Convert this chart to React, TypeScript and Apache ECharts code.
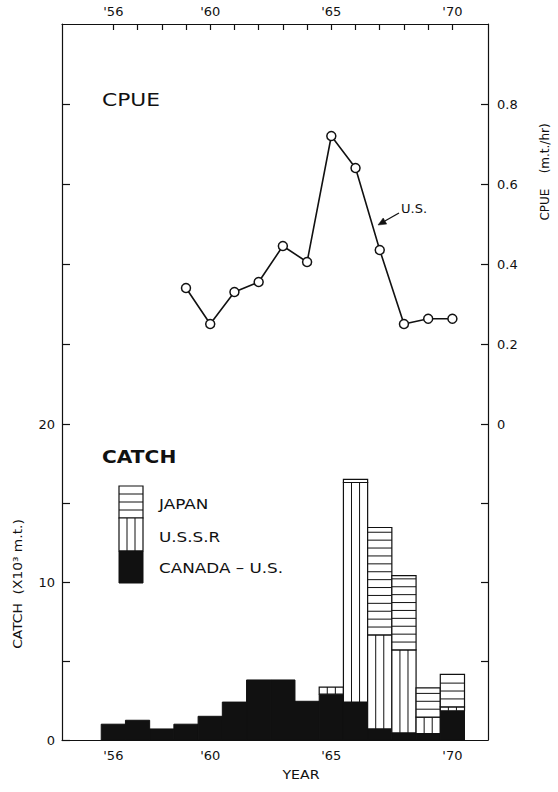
import React, { useEffect, useRef } from "react";
import * as echarts from "echarts";

// ---- data ----
const years = [1956, 1957, 1958, 1959, 1960, 1961, 1962, 1963, 1964, 1965, 1966, 1967, 1968, 1969, 1970];
const canadaUS = [1.0, 1.25, 0.7, 1.0, 1.5, 2.4, 3.8, 3.8, 2.45, 2.9, 2.4, 0.7, 0.45, 0.4, 1.85];
const ussr = [0, 0, 0, 0, 0, 0, 0, 0, 0, 0.45, 13.9, 5.95, 5.25, 1.05, 0.25];
const japan = [0, 0, 0, 0, 0, 0, 0, 0, 0, 0, 0.2, 6.8, 4.7, 1.85, 2.05];

const cpueYears = [1959, 1960, 1961, 1962, 1963, 1964, 1965, 1966, 1967, 1968, 1969, 1970];
const cpueUS = [0.34, 0.25, 0.33, 0.355, 0.445, 0.405, 0.72, 0.64, 0.435, 0.25, 0.263, 0.263];

const yearLabelValues = [1956, 1960, 1965, 1970];
const catchTicks = [0, 5, 10, 15, 20];
const catchLabels = [0, 10, 20];
const cpueTicks = [0, 0.2, 0.4, 0.6, 0.8];

const INK = "#111";
const FONT = "DejaVu Sans";

export default function App() {
  const ref = useRef<HTMLDivElement>(null);

  useEffect(() => {
    if (!ref.current) return;
    const chart = echarts.init(ref.current, null, { renderer: "svg" });

    const barData = years.map((y, i) => [y, canadaUS[i], ussr[i], japan[i]]);
    const lineData = cpueYears.map((y, i) => [y, cpueUS[i]]);

    const yearFmt = (v: number) => "'" + String(Math.round(v)).slice(2);

    const renderBar = (params: any, api: any) => {
      const yr = api.value(0);
      const c = api.value(1);
      const u = api.value(2);
      const j = api.value(3);
      const xl = api.coord([yr - 0.5, 0])[0];
      const xr = api.coord([yr + 0.5, 0])[0];
      const w = xr - xl;
      const y0 = api.coord([yr, 0])[1];
      const yc = api.coord([yr, c])[1];
      const yu = api.coord([yr, c + u])[1];
      const yj = api.coord([yr, c + u + j])[1];
      const children: any[] = [];
      children.push({
        type: "rect",
        shape: { x: xl, y: yc, width: w, height: y0 - yc },
        style: { fill: INK, stroke: INK, lineWidth: 1 },
      });
      if (u > 0) {
        children.push({
          type: "rect",
          shape: { x: xl, y: yu, width: w, height: yc - yu },
          style: { fill: "#fff", stroke: INK, lineWidth: 1.2 },
        });
        for (let k = 1; k < 3; k++) {
          const xx = xl + (w * k) / 3;
          children.push({
            type: "line",
            shape: { x1: xx, y1: yu, x2: xx, y2: yc },
            style: { stroke: INK, lineWidth: 1 },
          });
        }
      }
      if (j > 0) {
        children.push({
          type: "rect",
          shape: { x: xl, y: yj, width: w, height: yu - yj },
          style: { fill: "#fff", stroke: INK, lineWidth: 1.2 },
        });
        for (let v = c + u + 0.5; v < c + u + j - 0.15; v += 0.5) {
          const yy = api.coord([yr, v])[1];
          children.push({
            type: "line",
            shape: { x1: xl, y1: yy, x2: xr, y2: yy },
            style: { stroke: INK, lineWidth: 1 },
          });
        }
      }
      return { type: "group", children };
    };

    // legend box graphics
    const lgX = 119, lgW = 24;
    const lgText = (text: string, y: number) => ({
      type: "text",
      x: 159,
      y,
      scaleX: 1.2,
      style: { text, font: `14px '${FONT}'`, fill: INK, textVerticalAlign: "middle" },
    });
    const legendEls: any[] = [
      { type: "rect", shape: { x: lgX, y: 486, width: lgW, height: 32 }, style: { fill: "#fff", stroke: INK, lineWidth: 1.2 } },
      { type: "line", shape: { x1: lgX, y1: 494, x2: lgX + lgW, y2: 494 }, style: { stroke: INK, lineWidth: 1 } },
      { type: "line", shape: { x1: lgX, y1: 502, x2: lgX + lgW, y2: 502 }, style: { stroke: INK, lineWidth: 1 } },
      { type: "line", shape: { x1: lgX, y1: 510, x2: lgX + lgW, y2: 510 }, style: { stroke: INK, lineWidth: 1 } },
      { type: "rect", shape: { x: lgX, y: 518, width: lgW, height: 33 }, style: { fill: "#fff", stroke: INK, lineWidth: 1.2 } },
      { type: "line", shape: { x1: lgX + 8, y1: 518, x2: lgX + 8, y2: 551 }, style: { stroke: INK, lineWidth: 1 } },
      { type: "line", shape: { x1: lgX + 16, y1: 518, x2: lgX + 16, y2: 551 }, style: { stroke: INK, lineWidth: 1 } },
      { type: "rect", shape: { x: lgX, y: 551, width: lgW, height: 32 }, style: { fill: INK, stroke: INK, lineWidth: 1 } },
      lgText("JAPAN", 504),
      lgText("U.S.S.R", 537),
      lgText("CANADA – U.S.", 568),
    ];

    const option: any = {
      animation: false,
      backgroundColor: "#fff",
      textStyle: { fontFamily: FONT, color: INK },
      grid: { left: 62, right: 70, top: 24, bottom: 52, containLabel: false, outerBoundsMode: "none" },
      xAxis: [
        {
          type: "value",
          position: "bottom",
          min: 1953.88,
          max: 1971.47,
          axisLine: { show: true, onZero: false, lineStyle: { color: INK, width: 1.2 } },
          axisTick: { show: false },
          splitLine: { show: false },
          axisLabel: {
            customValues: yearLabelValues,
            formatter: yearFmt,
            color: INK,
            fontSize: 13,
            fontFamily: FONT,
            margin: 9,
          },
        },
        {
          type: "value",
          position: "top",
          min: 1953.88,
          max: 1971.47,
          axisLine: { show: true, onZero: false, lineStyle: { color: INK, width: 1.2 } },
          axisTick: { show: true, inside: true, length: 6, customValues: years, lineStyle: { color: INK, width: 1.2 } },
          splitLine: { show: false },
          axisLabel: {
            customValues: yearLabelValues,
            formatter: yearFmt,
            color: INK,
            fontSize: 13,
            fontFamily: FONT,
            margin: 6,
          },
        },
      ],
      yAxis: [
        {
          type: "value",
          position: "left",
          min: 0,
          max: 45.32,
          axisLine: { show: true, onZero: false, lineStyle: { color: INK, width: 1.2 } },
          axisTick: { show: true, inside: true, length: 8, customValues: catchTicks, lineStyle: { color: INK, width: 1.2 } },
          splitLine: { show: false },
          axisLabel: { customValues: catchLabels, color: INK, fontSize: 13, fontFamily: FONT, margin: 7 },
        },
        {
          type: "value",
          position: "right",
          min: -0.79,
          max: 1.0,
          axisLine: { show: true, onZero: false, lineStyle: { color: INK, width: 1.2 } },
          axisTick: { show: true, inside: true, length: 7, customValues: cpueTicks, lineStyle: { color: INK, width: 1.2 } },
          splitLine: { show: false },
          axisLabel: {
            customValues: cpueTicks,
            formatter: (v: number) => (v === 0 ? "0" : v.toFixed(1)),
            color: INK,
            fontSize: 13,
            fontFamily: FONT,
            margin: 9,
          },
        },
        {
          type: "value",
          position: "left",
          min: -0.79,
          max: 1.0,
          axisLine: { show: false, onZero: false },
          axisTick: { show: true, inside: true, length: 8, customValues: [0.2, 0.4, 0.6, 0.8], lineStyle: { color: INK, width: 1.2 } },
          splitLine: { show: false },
          axisLabel: { show: false },
        },
        {
          type: "value",
          position: "right",
          min: 0,
          max: 45.32,
          axisLine: { show: false, onZero: false },
          axisTick: { show: true, inside: true, length: 7, customValues: [5, 10, 15], lineStyle: { color: INK, width: 1.2 } },
          splitLine: { show: false },
          axisLabel: { show: false },
        },
      ],
      series: [
        {
          type: "custom",
          name: "Catch",
          xAxisIndex: 0,
          yAxisIndex: 0,
          renderItem: renderBar,
          encode: { x: 0, y: 1 },
          data: barData,
          z: 2,
        },
        {
          type: "line",
          name: "CPUE U.S.",
          xAxisIndex: 0,
          yAxisIndex: 1,
          data: lineData,
          symbol: "circle",
          symbolSize: 9,
          lineStyle: { color: INK, width: 1.6 },
          itemStyle: { color: "#fff", borderColor: INK, borderWidth: 1.5 },
          z: 3,
        },
      ],
      graphic: [
        { type: "text", x: 102, y: 100, scaleX: 1.28, style: { text: "CPUE", font: `17px '${FONT}'`, fill: INK, textVerticalAlign: "middle" } },
        { type: "text", x: 102, y: 457, scaleX: 1.12, style: { text: "CATCH", font: `bold 18px '${FONT}'`, fill: INK, textVerticalAlign: "middle" } },
        { type: "text", x: 401, y: 208, style: { text: "U.S.", font: `13px '${FONT}'`, fill: INK, textVerticalAlign: "middle" } },
        { type: "line", shape: { x1: 399, y1: 213, x2: 384.9, y2: 221 }, style: { stroke: INK, lineWidth: 1.3 } },
        { type: "polygon", shape: { points: [[378, 225], [386.7, 224.1], [383.2, 218.0]] }, style: { fill: INK, stroke: INK, lineWidth: 0.5 } },
        { type: "text", x: 301, y: 775, scaleX: 1.18, style: { text: "YEAR", font: `12px '${FONT}'`, fill: INK, textAlign: "center", textVerticalAlign: "middle" } },
        {
          type: "text",
          x: 18,
          y: 584,
          rotation: Math.PI / 2,
          scaleX: 1.15,
          style: { text: "CATCH  (X10³ m.t.)", font: `12px '${FONT}'`, fill: INK, textAlign: "center", textVerticalAlign: "middle" },
        },
        {
          type: "text",
          x: 545,
          y: 172,
          rotation: Math.PI / 2,
          style: { text: "CPUE    (m.t./hr)", font: `12px '${FONT}'`, fill: INK, textAlign: "center", textVerticalAlign: "middle" },
        },
        ...legendEls,
      ],
    };

    chart.setOption(option);
    return () => chart.dispose();
  }, []);

  return <div ref={ref} style={{ position: "absolute", left: 0, top: 0, width: 558, height: 792 }} />;
}
